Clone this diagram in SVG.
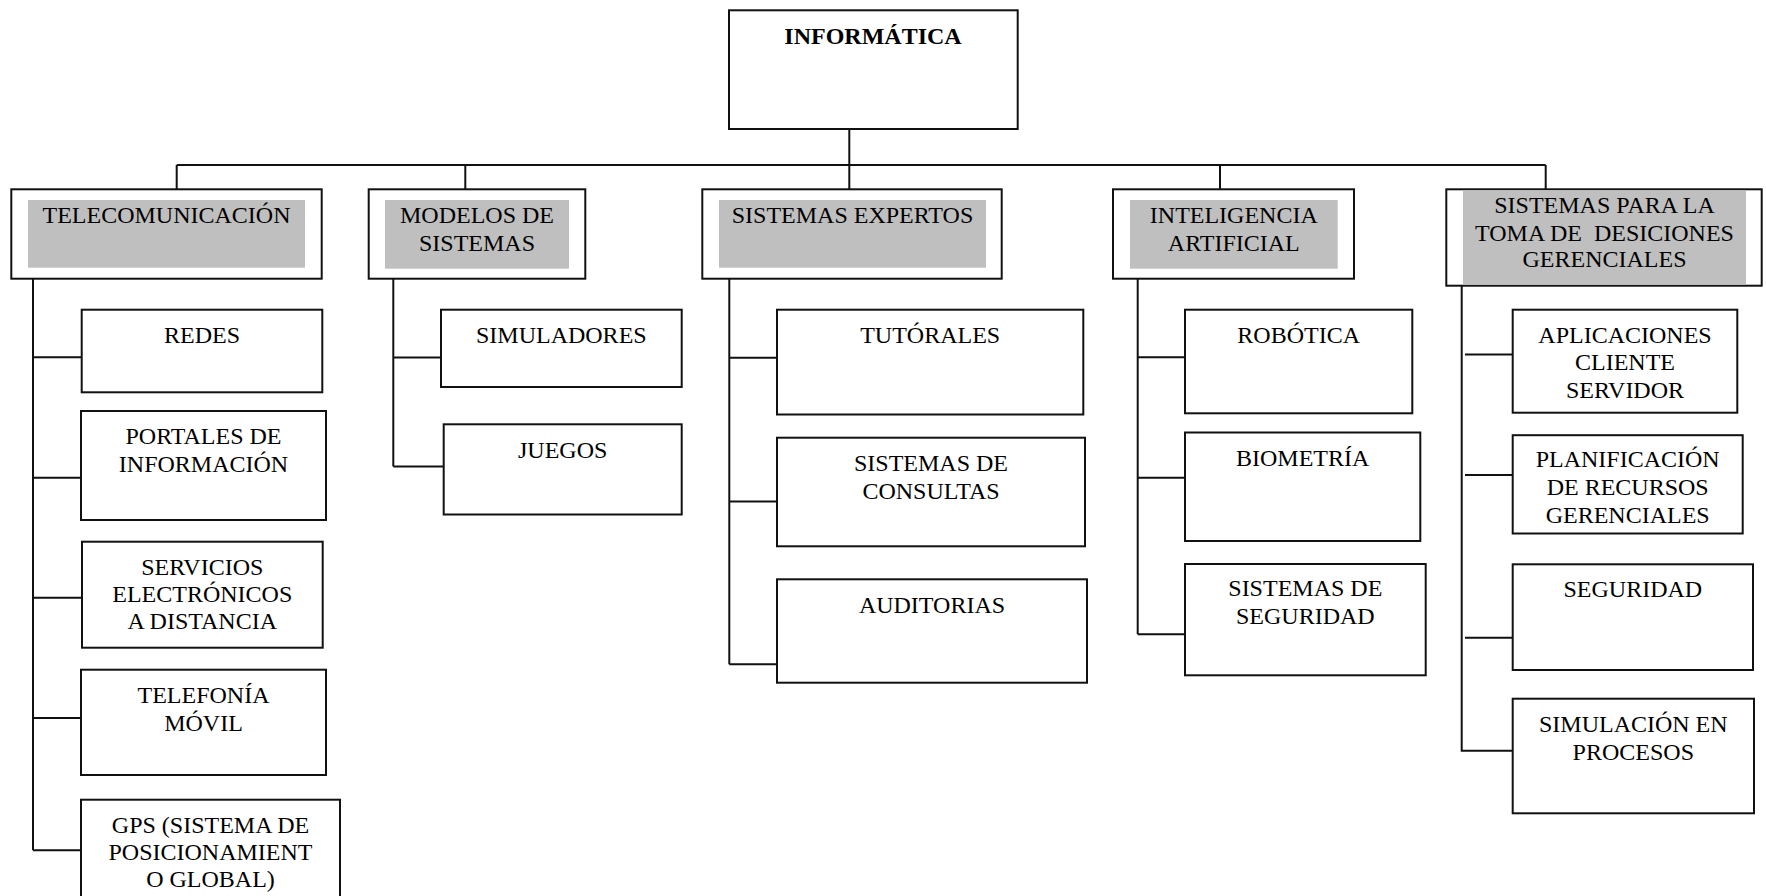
<svg xmlns="http://www.w3.org/2000/svg" width="1766" height="896" viewBox="0 0 1766 896">
<style>
.bx{fill:#ffffff;stroke:#111;stroke-width:2}
.gr{fill:#bfbfbf;stroke:none}
.ln{fill:none;stroke:#111;stroke-width:2}
text{font-family:"Liberation Serif","Times New Roman",serif;font-size:24px;fill:#000;text-anchor:middle}
.b{font-weight:bold}
</style>
<rect width="1766" height="896" fill="#ffffff"/>
<g id="connectors">
<path class="ln" d="M849.3,129 V189.3 M176.7,165 H1545.7 M176.7,165 V189.3 M465.3,165 V189.3 M1220,165 V189.3 M1545.7,165 V189.3"/>
<path class="ln" d="M33,278.7 V850.3 M33,357.3 H81.7 M33,477.7 H81 M33,597.7 H82 M33,718 H81 M33,850.3 H81"/>
<path class="ln" d="M393.3,278.7 V466.5 M393.3,357.5 H441 M393.3,466.5 H443.7"/>
<path class="ln" d="M729.3,278.7 V664.3 M729.3,357.7 H777 M729.3,501.5 H777 M729.3,664.3 H777"/>
<path class="ln" d="M1137.7,278.7 V634.3 M1137.7,357.3 H1185 M1137.7,477.7 H1185 M1137.7,634.3 H1185"/>
<path class="ln" d="M1461.7,285.7 V750.7 H1512.7 M1465,354.5 H1512.7 M1465,475 H1512.7 M1465,637.7 H1512.7"/>
</g>
<g id="informatica">
<rect class="bx" x="729" y="10.3" width="288.7" height="118.7"/>
<text class="b" x="873" y="44">INFORMÁTICA</text>
</g>
<g id="telecomunicacion">
<rect class="bx" x="11.3" y="189.3" width="310.4" height="89.4"/>
<rect class="gr" x="28" y="200" width="277" height="67.7"/>
<text x="166.5" y="222.7">TELECOMUNICACIÓN</text>
</g>
<g id="modelos">
<rect class="bx" x="368.7" y="189.3" width="216.6" height="89.4"/>
<rect class="gr" x="385" y="200" width="184" height="68.7"/>
<text x="477" y="222.7">MODELOS DE</text>
<text x="477" y="250.7">SISTEMAS</text>
</g>
<g id="expertos">
<rect class="bx" x="702.3" y="189.3" width="299.4" height="89.4"/>
<rect class="gr" x="719" y="200" width="267" height="67.7"/>
<text x="852.5" y="222.7">SISTEMAS EXPERTOS</text>
</g>
<g id="inteligencia">
<rect class="bx" x="1113" y="189.3" width="241" height="89.4"/>
<rect class="gr" x="1130" y="200" width="207.7" height="68.7"/>
<text x="1233.8" y="222.7">INTELIGENCIA</text>
<text x="1233.8" y="251">ARTIFICIAL</text>
</g>
<g id="gerenciales">
<rect class="bx" x="1446.3" y="189.3" width="315.4" height="96.4"/>
<rect class="gr" x="1463" y="190.7" width="283" height="93.8"/>
<text x="1604.5" y="213.3">SISTEMAS PARA LA</text>
<text x="1604.5" y="240.7" xml:space="preserve">TOMA DE  DESICIONES</text>
<text x="1604.5" y="267.3">GERENCIALES</text>
</g>
<g id="redes">
<rect class="bx" x="81.7" y="309.7" width="240.6" height="82.6"/>
<text x="202" y="343.3">REDES</text>
</g>
<g id="portales">
<rect class="bx" x="81" y="411" width="245" height="109"/>
<text x="203.5" y="444">PORTALES DE</text>
<text x="203.5" y="471.7">INFORMACIÓN</text>
</g>
<g id="servicios">
<rect class="bx" x="82" y="541.7" width="240.7" height="106"/>
<text x="202.3" y="575">SERVICIOS</text>
<text x="202.3" y="601.7">ELECTRÓNICOS</text>
<text x="202.3" y="629">A DISTANCIA</text>
</g>
<g id="telefonia">
<rect class="bx" x="81" y="669.7" width="245" height="105.3"/>
<text x="203.5" y="703.3">TELEFONÍA</text>
<text x="203.5" y="730.7">MÓVIL</text>
</g>
<g id="gps">
<rect class="bx" x="81" y="799.7" width="259" height="112"/>
<text x="210.5" y="833.3">GPS (SISTEMA DE</text>
<text x="210.5" y="860">POSICIONAMIENT</text>
<text x="210.5" y="887.3">O GLOBAL)</text>
</g>
<g id="simuladores">
<rect class="bx" x="441" y="309.7" width="240.7" height="77.3"/>
<text x="561.3" y="343.3">SIMULADORES</text>
</g>
<g id="juegos">
<rect class="bx" x="443.7" y="424.3" width="238" height="90.2"/>
<text x="562.7" y="458.3">JUEGOS</text>
</g>
<g id="tutorales">
<rect class="bx" x="777" y="309.7" width="306.3" height="104.8"/>
<text x="930.2" y="342.7">TUTÓRALES</text>
</g>
<g id="consultas">
<rect class="bx" x="777" y="437.7" width="308" height="108.6"/>
<text x="931" y="471">SISTEMAS DE</text>
<text x="931" y="498.7">CONSULTAS</text>
</g>
<g id="auditorias">
<rect class="bx" x="777" y="579.3" width="310" height="103.4"/>
<text x="932" y="612.8">AUDITORIAS</text>
</g>
<g id="robotica">
<rect class="bx" x="1185" y="309.7" width="227.3" height="103.6"/>
<text x="1298.7" y="343.3">ROBÓTICA</text>
</g>
<g id="biometria">
<rect class="bx" x="1185" y="432.5" width="235.3" height="108.5"/>
<text x="1302.7" y="465.7">BIOMETRÍA</text>
</g>
<g id="seguridad-sistemas">
<rect class="bx" x="1185" y="564" width="240.7" height="111.3"/>
<text x="1305.3" y="596">SISTEMAS DE</text>
<text x="1305.3" y="624.3">SEGURIDAD</text>
</g>
<g id="aplicaciones">
<rect class="bx" x="1512.7" y="309.7" width="224.6" height="103"/>
<text x="1625" y="342.5">APLICACIONES</text>
<text x="1625" y="370">CLIENTE</text>
<text x="1625" y="397.7">SERVIDOR</text>
</g>
<g id="planificacion">
<rect class="bx" x="1512.7" y="435.2" width="230" height="98.3"/>
<text x="1627.7" y="467.3">PLANIFICACIÓN</text>
<text x="1627.7" y="495">DE RECURSOS</text>
<text x="1627.7" y="522.7">GERENCIALES</text>
</g>
<g id="seguridad">
<rect class="bx" x="1512.7" y="564.3" width="240.3" height="105.7"/>
<text x="1632.8" y="596.7">SEGURIDAD</text>
</g>
<g id="simulacion">
<rect class="bx" x="1512.7" y="698.7" width="241.3" height="114.6"/>
<text x="1633.3" y="731.7">SIMULACIÓN EN</text>
<text x="1633.3" y="760">PROCESOS</text>
</g>
</svg>
